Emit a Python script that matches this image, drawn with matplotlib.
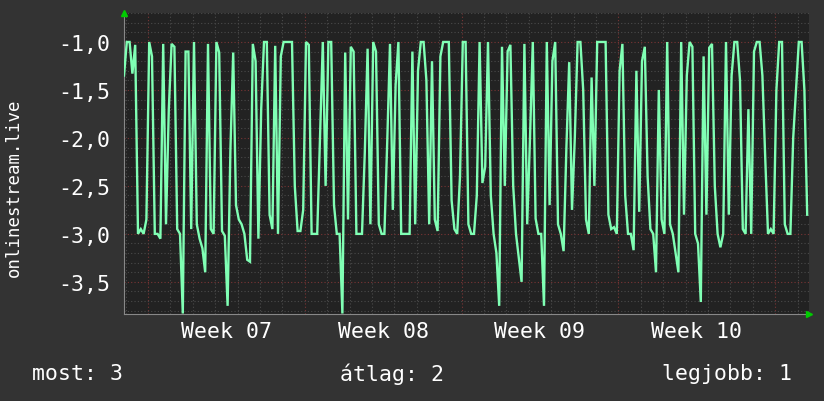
import matplotlib
matplotlib.use('Agg')
import matplotlib.pyplot as plt
import numpy as np

# ── Data ───────────────────────────────────────────────────────────────
# rank samples, one every 3 hours (1/8 day), negative so the best (1) is on top
STEP_DAYS = 0.125
values = [
    # week 06/07
    -1.35, -1.0, -1.0, -1.33, -1.03, -3.0, -2.95, -3.0, -2.85, -1.0,
    -1.15, -3.0, -3.0, -3.05, -1.02, -2.9, -1.7, -1.02, -1.05, -2.95,
    -3.0, -3.83, -1.1, -1.1, -2.95, -1.0, -2.9, -3.05, -3.15, -3.4,
    -1.02, -2.95, -3.0, -1.0, -1.11, -2.97, -3.02, -3.75, -2.13, -1.11,
    -2.7, -2.85, -2.9, -3.0, -3.27, -3.29, -1.02, -1.2, -3.05,
    # week 07/08
    -1.7, -1.0, -1.0, -2.8, -2.95, -1.04, -3.0, -1.15, -1.0, -1.0,
    -1.0, -1.0, -2.5, -2.97, -2.97, -2.75, -1.0, -1.03, -3.0, -3.0,
    -3.0, -2.0, -1.0, -2.5, -1.0, -1.0, -2.7, -3.0, -3.0, -3.83,
    -1.11, -2.85, -1.05, -1.1, -3.0, -3.0, -3.0, -2.15, -1.07, -2.9,
    -1.0, -1.1, -2.9, -3.0, -3.0, -2.05, -1.02, -2.75, -1.45,
    # week 08/09
    -1.0, -3.0, -3.0, -3.0, -3.0, -1.1, -2.9, -1.3, -1.0, -1.0,
    -1.4, -2.9, -1.2, -2.85, -2.97, -1.15, -1.0, -1.0, -1.0, -2.65,
    -2.95, -3.0, -2.4, -1.0, -1.0, -2.9, -3.0, -3.0, -2.6, -1.0,
    -2.47, -2.3, -1.0, -2.6, -3.0, -3.2, -3.75, -1.05, -2.5, -1.1,
    -1.03, -2.5, -3.0, -3.25, -3.5, -1.02, -2.9, -2.0, -1.0,
    # week 09/10
    -2.84, -3.0, -3.0, -3.75, -1.0, -2.7, -1.2, -1.0, -2.9, -3.0,
    -3.18, -2.1, -1.21, -2.75, -2.0, -1.0, -1.0, -1.5, -2.85, -3.0,
    -1.37, -2.5, -1.0, -1.0, -1.0, -1.0, -2.8, -2.95, -2.93, -3.0,
    -1.3, -1.02, -2.6, -3.0, -3.0, -3.17, -1.3, -2.77, -1.2, -1.05,
    -2.4, -2.95, -3.0, -3.4, -1.5, -2.85, -3.0, -1.0, -2.9,
    # week 10/11
    -3.0, -3.2, -3.4, -1.0, -2.8, -1.35, -1.0, -1.05, -3.0, -3.1,
    -3.71, -1.15, -2.8, -1.06, -1.02, -2.5, -3.0, -3.14, -3.0, -1.0,
    -2.8, -1.35, -1.0, -1.0, -1.4, -2.95, -3.0, -1.7, -3.0, -1.1,
    -1.0, -1.0, -1.35, -2.2, -3.0, -2.95, -3.0, -1.5, -1.0, -1.0,
    -2.9, -3.0, -3.0, -2.0, -1.5, -1.0, -1.0, -1.5, -2.8,
]

FIRST_WEEK_START = 1.07          # days from graph start to Monday of week 07
week_labels = ['Week 07', 'Week 08', 'Week 09', 'Week 10']
y_ticks = [-1.0, -1.5, -2.0, -2.5, -3.0, -3.5]
series_name = 'onlinestream.live'
legend_items = [('most', 3), ('átlag', 2), ('legjobb', 1)]

# Colors (rrdtool-ish dark theme)
CANVAS = '#333333'
BACK = '#222222'
LINE = '#80ffb4'
MINOR = '#4a4a4a'
MAJOR = '#7a3535'
TEXT = '#ffffff'
ARROW = '#00cc00'

plt.rcParams['font.family'] = ['DejaVu Sans Mono']

# ── Plot ───────────────────────────────────────────────────────────────

fig = plt.figure(figsize=(8.24, 4.02), dpi=100, facecolor=CANVAS)
ax = fig.add_axes([124 / 824, 1 - 315 / 402, 685 / 824, 301 / 402])
ax.set_facecolor(BACK)

t = np.arange(len(values)) * STEP_DAYS
x_end = 685 / 22.4
ax.set_xlim(0, x_end)
ax.set_ylim(-3.835, -0.698)

# grid: minor dotted grey, major dotted red
for d in np.arange(FIRST_WEEK_START - 1, x_end, 1.0):
    is_major = abs(((d - FIRST_WEEK_START) / 7) - round((d - FIRST_WEEK_START) / 7)) < 1e-6
    ax.axvline(d, color=MAJOR if is_major else MINOR, lw=0.8,
               ls=(0, (1, 2)), zorder=1)
for v in np.arange(-3.8, -0.69, 0.1):
    is_major = abs(v * 2 - round(v * 2)) < 1e-6
    ax.axhline(v, color=MAJOR if is_major else MINOR, lw=0.8,
               ls=(0, (1, 2)), zorder=1)

ax.plot(t, values, color=LINE, lw=1.7, zorder=3, solid_joinstyle='miter')

for s in ['top', 'right']:
    ax.spines[s].set_visible(False)
for s in ['left', 'bottom']:
    ax.spines[s].set_color('#888888')
    ax.spines[s].set_linewidth(0.8)

ax.set_yticks(y_ticks)
ax.set_yticklabels([f'{v:.1f}'.replace('.', ',') for v in y_ticks],
                   fontsize=15.5, color=TEXT)
week_centers = [FIRST_WEEK_START + 3.5 + 7 * i for i in range(len(week_labels))]
ax.set_xticks(week_centers)
ax.set_xticklabels(week_labels, fontsize=15.5, color=TEXT)
ax.tick_params(axis='x', length=0, pad=5)
ax.tick_params(axis='y', length=0, pad=10)

# axis arrows
ax.plot([0], [1.0], marker='^', color=ARROW, markersize=5,
        transform=ax.transAxes, clip_on=False, zorder=5)
ax.plot([1.0], [0], marker='>', color=ARROW, markersize=5,
        transform=ax.transAxes, clip_on=False, zorder=5)

fig.text(14 / 824, 1 - 188 / 402, series_name, rotation=90, fontsize=12.5,
         color=TEXT, ha='center', va='center')

fig.text(32 / 824, 1 - 374 / 402, f'{legend_items[0][0]}: {legend_items[0][1]}',
         fontsize=15.5, color=TEXT, ha='left', va='center')
fig.text(392 / 824, 1 - 374 / 402, f'{legend_items[1][0]}: {legend_items[1][1]}',
         fontsize=15.5, color=TEXT, ha='center', va='center')
fig.text(792 / 824, 1 - 374 / 402, f'{legend_items[2][0]}: {legend_items[2][1]}',
         fontsize=15.5, color=TEXT, ha='right', va='center')

fig.savefig('out.png', dpi=100, facecolor=CANVAS)
